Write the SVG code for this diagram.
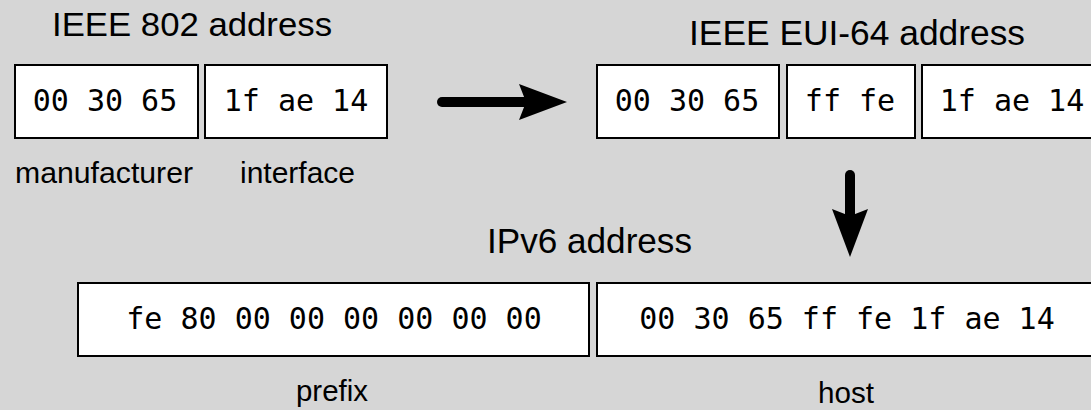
<svg xmlns="http://www.w3.org/2000/svg" width="1091" height="410" viewBox="0 0 1091 410">
  <style>
    .box { fill: #ffffff; stroke: #000000; stroke-width: 2; }
    .hex { font-family: "DejaVu Sans Mono", "Liberation Mono", monospace; font-size: 30px; fill: #000000; text-anchor: middle; }
    .title { font-family: "Liberation Sans", Arial, sans-serif; fill: #000000; }
    .label { font-family: "Liberation Sans", Arial, sans-serif; font-size: 29px; fill: #000000; }
    .shaft { stroke: #000000; stroke-width: 10; stroke-linecap: round; fill: none; }
    .head { fill: #000000; }
  </style>

  <rect x="0" y="0" width="1091" height="410" fill="#d6d6d6"/>

  <!-- IEEE 802 address -->
  <g id="mac">
    <text class="title" x="52" y="36" style="font-size:33px" textLength="280" lengthAdjust="spacingAndGlyphs">IEEE 802 address</text>
    <g id="mac-manufacturer">
      <rect class="box" x="15" y="65" width="183" height="73"/>
      <text class="hex" x="105" y="111">00 30 65</text>
      <text class="label" x="15" y="183" textLength="178" lengthAdjust="spacingAndGlyphs">manufacturer</text>
    </g>
    <g id="mac-interface">
      <rect class="box" x="205" y="65" width="182" height="73"/>
      <text class="hex" x="296" y="111">1f ae 14</text>
      <text class="label" x="240" y="183" textLength="115" lengthAdjust="spacingAndGlyphs">interface</text>
    </g>
  </g>

  <!-- IEEE EUI-64 address -->
  <g id="eui64">
    <text class="title" x="689" y="45" style="font-size:35px" textLength="336" lengthAdjust="spacingAndGlyphs">IEEE EUI-64 address</text>
    <g id="eui64-manufacturer">
      <rect class="box" x="597" y="65" width="182" height="73"/>
      <text class="hex" x="687" y="111">00 30 65</text>
    </g>
    <g id="eui64-fffe">
      <rect class="box" x="787" y="65" width="128" height="73"/>
      <text class="hex" x="850" y="111">ff fe</text>
    </g>
    <g id="eui64-interface">
      <rect class="box" x="922" y="65" width="182" height="73"/>
      <text class="hex" x="1012" y="111">1f ae 14</text>
    </g>
  </g>

  <!-- IPv6 address -->
  <g id="ipv6">
    <text class="title" x="487" y="253" style="font-size:35px" textLength="205" lengthAdjust="spacingAndGlyphs">IPv6 address</text>
    <g id="ipv6-prefix">
      <rect class="box" x="78" y="283" width="511" height="73"/>
      <text class="hex" x="334" y="329">fe 80 00 00 00 00 00 00</text>
      <text class="label" x="296" y="401" textLength="72" lengthAdjust="spacingAndGlyphs">prefix</text>
    </g>
    <g id="ipv6-host">
      <rect class="box" x="597" y="283" width="502" height="73"/>
      <text class="hex" x="847" y="329">00 30 65 ff fe 1f ae 14</text>
      <text class="label" x="818" y="403" textLength="56" lengthAdjust="spacingAndGlyphs">host</text>
    </g>
  </g>

  <!-- connectors -->
  <g id="connectors">
    <g id="mac-to-eui64">
      <line class="shaft" x1="442" y1="102" x2="528" y2="102"/>
      <polygon class="head" points="567,102 519,84 526,102 519,120"/>
    </g>
    <g id="eui64-to-ipv6">
      <line class="shaft" x1="850" y1="175" x2="850" y2="217"/>
      <polygon class="head" points="850,257 832,209 850,216 868,209"/>
    </g>
  </g>
</svg>
